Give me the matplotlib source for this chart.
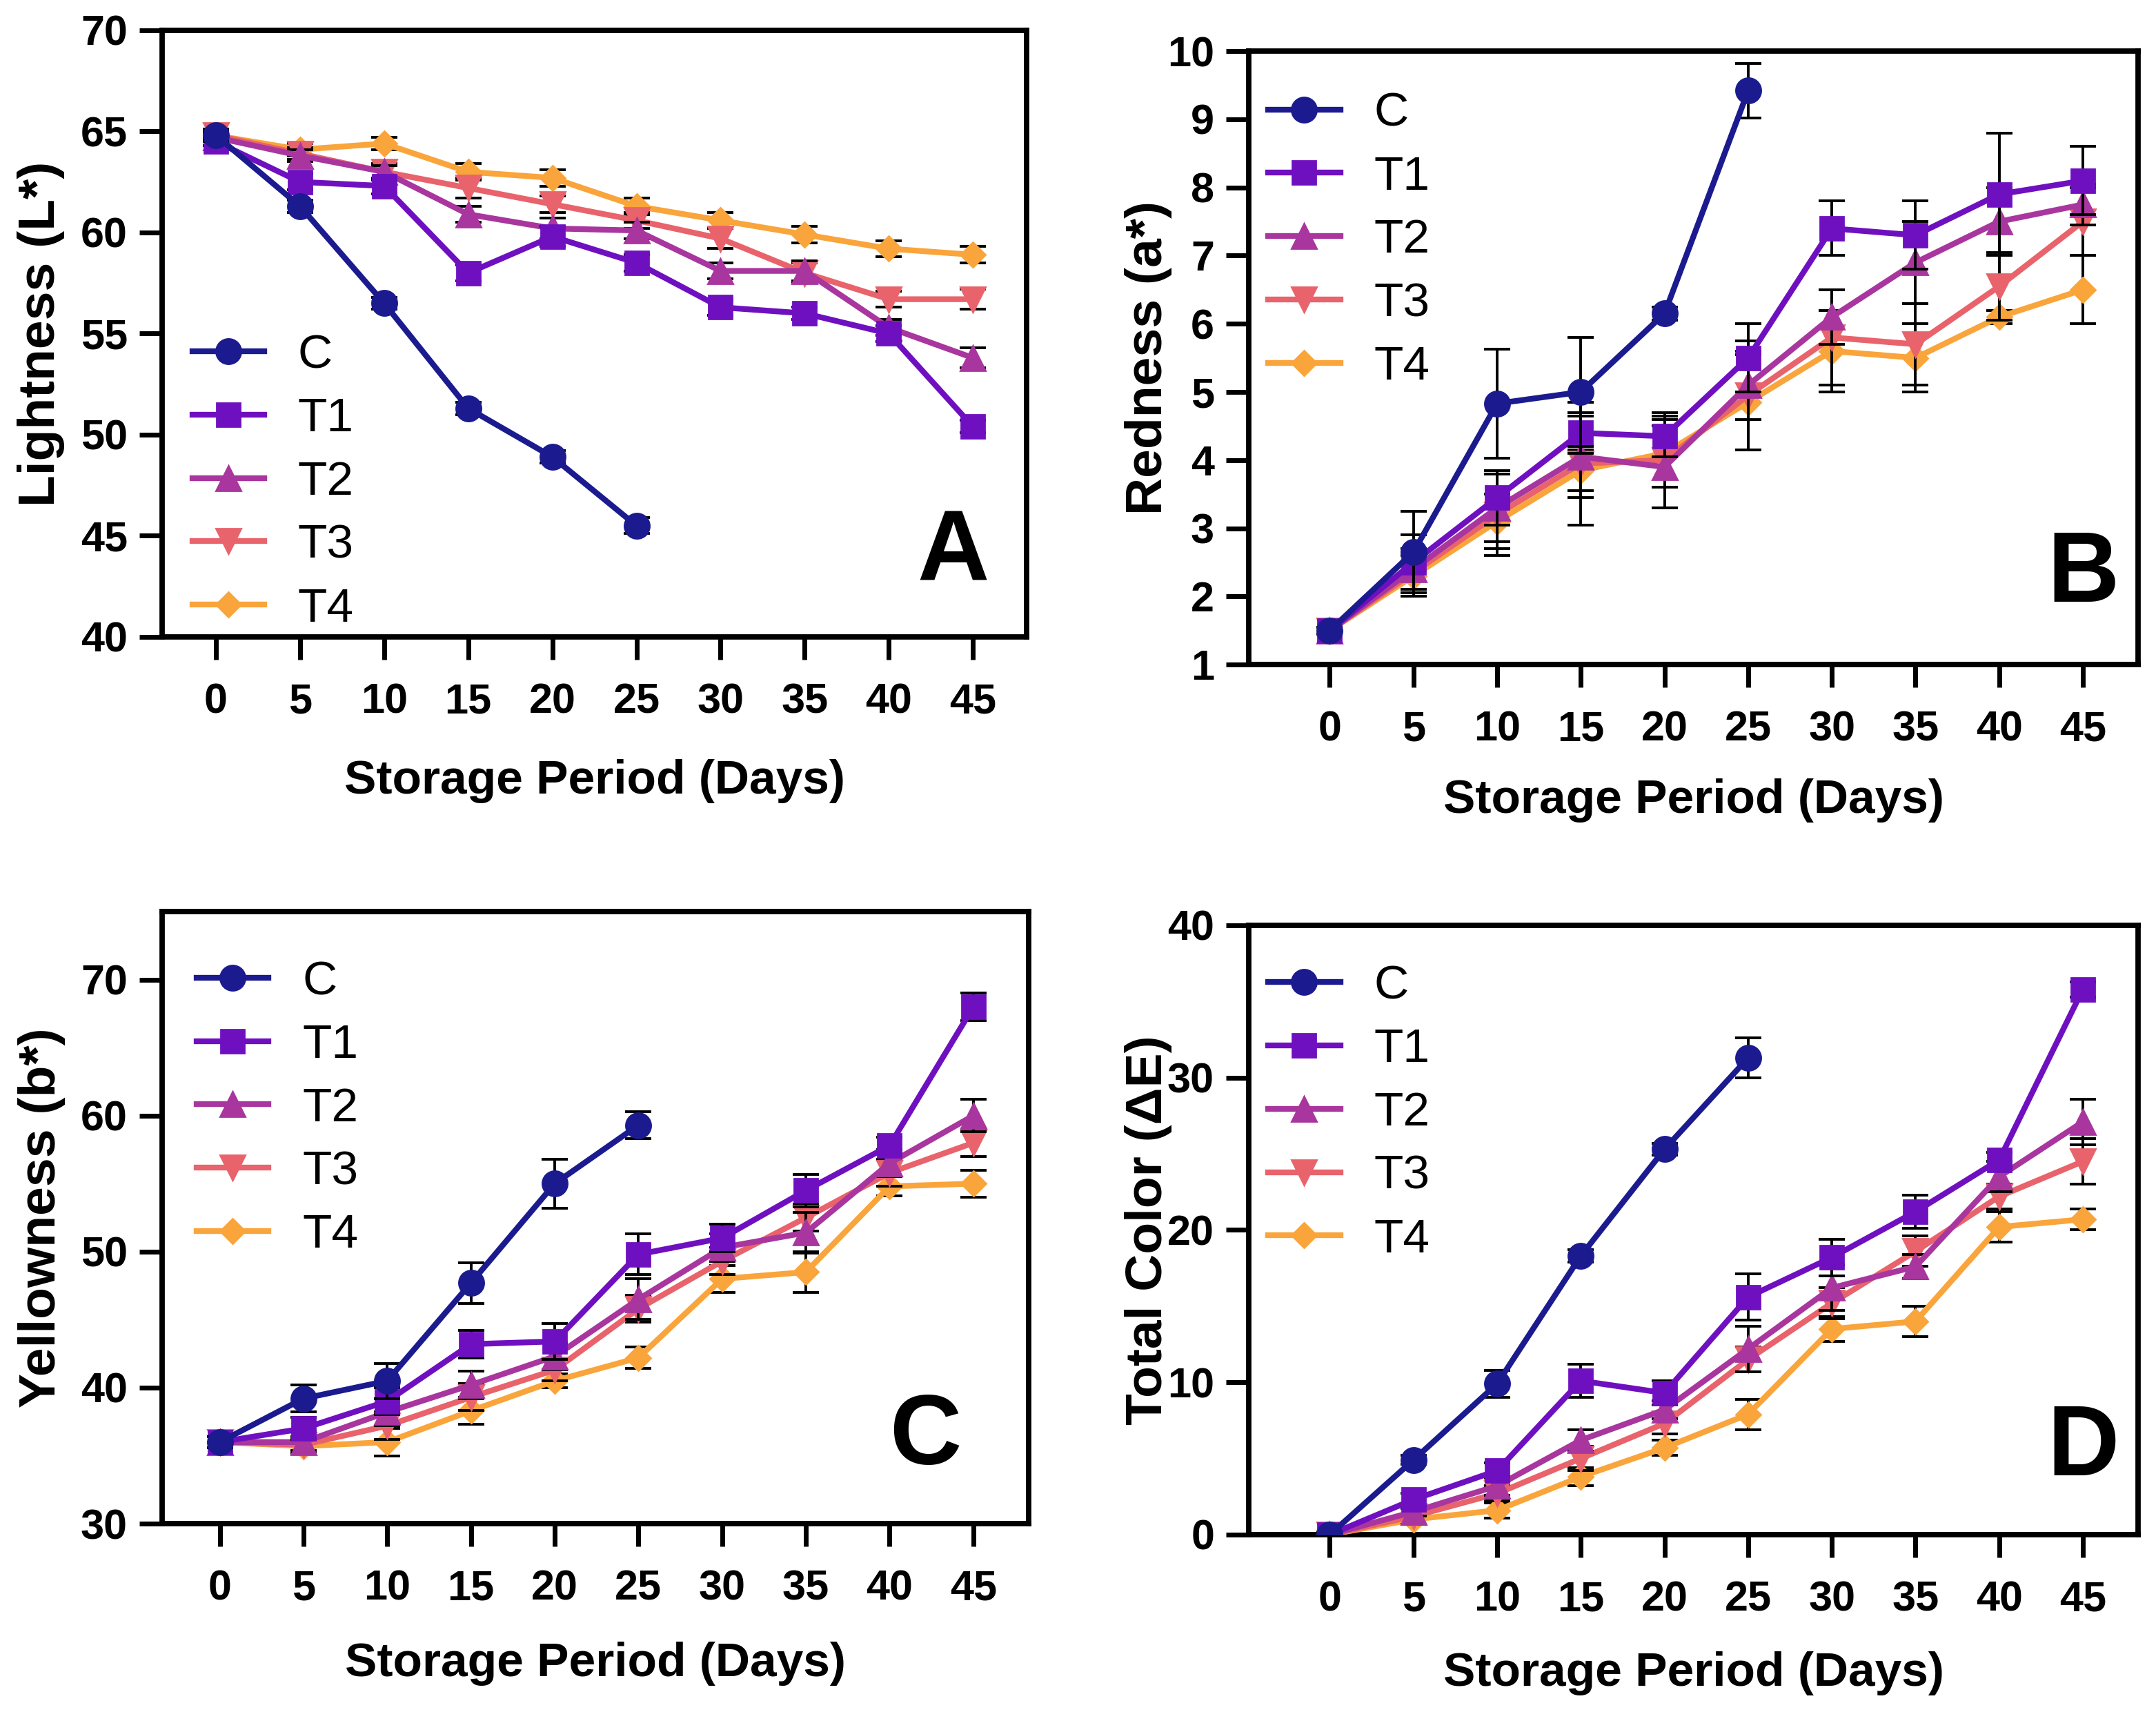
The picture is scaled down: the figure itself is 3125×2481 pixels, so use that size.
import matplotlib
matplotlib.use("Agg")
import matplotlib.pyplot as plt

plt.rcParams["font.family"] = ["Liberation Sans", "DejaVu Sans"]

days = [0, 5, 10, 15, 20, 25, 30, 35, 40, 45]
groups = ["C", "T1", "T2", "T3", "T4"]
colors = ["#1b1b8f", "#6f10c0", "#a8369e", "#e8636b", "#f9a53b"]
markers = ["o", "s", "^", "v", "D"]
msizes = [13, 12, 13, 13, 9]

# Lightness (L*)
L_mean = {
    "C":  [64.8, 61.3, 56.5, 51.3, 48.9, 45.5],
    "T1": [64.5, 62.5, 62.3, 58.0, 59.8, 58.5, 56.3, 56.0, 55.0, 50.4],
    "T2": [64.7, 63.8, 63.0, 60.9, 60.2, 60.1, 58.1, 58.1, 55.3, 53.8],
    "T3": [64.8, 63.9, 63.0, 62.2, 61.4, 60.6, 59.7, 58.0, 56.7, 56.7],
    "T4": [64.8, 64.1, 64.4, 63.0, 62.7, 61.3, 60.6, 59.9, 59.2, 58.9],
}
L_err = {
    "C":  [0.3, 0.3, 0.3, 0.3, 0.3, 0.4],
    "T1": [0.2, 0.4, 0.4, 0.4, 0.5, 0.4, 0.4, 0.3, 0.4, 0.3],
    "T2": [0.2, 0.3, 0.3, 0.4, 0.5, 0.4, 0.4, 0.5, 0.4, 0.5],
    "T3": [0.2, 0.3, 0.4, 0.5, 0.4, 0.4, 0.5, 0.5, 0.4, 0.5],
    "T4": [0.2, 0.3, 0.3, 0.4, 0.4, 0.4, 0.4, 0.4, 0.4, 0.4],
}

# Redness (a*)
a_mean = {
    "C":  [1.5, 2.65, 4.83, 5.0, 6.15, 9.42],
    "T1": [1.5, 2.5, 3.45, 4.4, 4.35, 5.5, 7.4, 7.3, 7.9, 8.1],
    "T2": [1.5, 2.4, 3.3, 4.05, 3.9, 5.1, 6.1, 6.9, 7.5, 7.75],
    "T3": [1.5, 2.35, 3.2, 3.95, 4.0, 4.95, 5.8, 5.7, 6.55, 7.5],
    "T4": [1.5, 2.3, 3.1, 3.85, 4.1, 4.85, 5.6, 5.5, 6.1, 6.5],
}
a_err = {
    "C":  [0.05, 0.6, 0.8, 0.8, 0.1, 0.4],
    "T1": [0.05, 0.4, 0.4, 0.3, 0.3, 0.5, 0.4, 0.5, 0.9, 0.5],
    "T2": [0.05, 0.3, 0.5, 0.6, 0.6, 0.5, 0.4, 0.6, 0.5, 0.3],
    "T3": [0.05, 0.3, 0.6, 0.9, 0.7, 0.8, 0.7, 0.6, 0.5, 0.5],
    "T4": [0.05, 0.3, 0.4, 0.3, 0.5, 0.7, 0.6, 0.5, 0.1, 0.5],
}

# Yellowness (b*)
b_mean = {
    "C":  [36.0, 39.2, 40.5, 47.7, 55.0, 59.3],
    "T1": [36.0, 37.0, 39.0, 43.2, 43.4, 49.8, 51.0, 54.5, 57.8, 68.0],
    "T2": [36.0, 36.0, 38.2, 40.2, 42.3, 46.5, 50.3, 51.4, 56.5, 60.0],
    "T3": [36.0, 35.8, 37.2, 39.3, 41.3, 45.8, 49.3, 52.5, 55.8, 58.0],
    "T4": [36.0, 35.7, 36.0, 38.3, 40.5, 42.2, 48.0, 48.5, 54.8, 55.0],
}
b_err = {
    "C":  [0.4, 1.0, 1.3, 1.5, 1.8, 1.0],
    "T1": [0.4, 0.8, 1.0, 1.0, 1.3, 1.5, 1.0, 1.2, 0.6, 1.0],
    "T2": [0.4, 0.8, 1.0, 1.0, 1.0, 1.5, 1.0, 1.5, 1.0, 1.2],
    "T3": [0.4, 0.6, 1.0, 1.0, 0.8, 1.0, 1.0, 1.0, 1.0, 1.0],
    "T4": [0.4, 0.3, 1.0, 1.0, 0.5, 0.8, 1.0, 1.5, 0.7, 1.0],
}

# Total color (dE)
e_mean = {
    "C":  [0.0, 4.9, 9.9, 18.3, 25.3, 31.3],
    "T1": [0.0, 2.3, 4.2, 10.1, 9.3, 15.6, 18.2, 21.2, 24.6, 35.8],
    "T2": [0.0, 1.5, 3.2, 6.2, 8.2, 12.2, 16.2, 17.6, 23.5, 27.1],
    "T3": [0.0, 1.2, 2.7, 5.0, 7.3, 11.5, 15.2, 18.6, 22.2, 24.5],
    "T4": [0.0, 1.0, 1.6, 3.8, 5.7, 7.9, 13.5, 14.0, 20.2, 20.7],
}
e_err = {
    "C":  [0.2, 0.3, 0.9, 0.4, 0.4, 1.3],
    "T1": [0.2, 0.4, 0.5, 1.1, 0.8, 1.5, 1.2, 1.1, 0.5, 0.5],
    "T2": [0.2, 0.3, 0.6, 0.7, 0.6, 1.5, 1.5, 0.8, 1.0, 1.5],
    "T3": [0.2, 0.5, 0.5, 0.8, 0.7, 0.8, 1.0, 1.0, 0.8, 1.5],
    "T4": [0.2, 0.3, 0.5, 0.6, 0.5, 1.0, 0.8, 1.0, 1.0, 0.7],
}

panels = [
    # data, err, ylabel, letter, rect, xlim, ylim, yticks, legend anchor, letter pos, ylabel x, xlabel y
    (L_mean, L_err, "Lightness (L*)", "A", [0.0752, 0.6280, 0.4010, 0.3543],
     (-3.2, 48.2), (40, 70), range(40, 71, 5), (0.035, 0.50), (0.915, 0.094), -0.14, -0.238),
    (a_mean, a_err, "Redness (a*)", "B", [0.5792, 0.6118, 0.4125, 0.3583],
     (-4.84, 48.3), (1, 10), range(1, 11), (0.022, 0.934), (0.938, 0.103), -0.113, -0.222),
    (b_mean, b_err, "Yellowness (b*)", "C", [0.0752, 0.1100, 0.4019, 0.3575],
     (-3.44, 48.3), (30, 75), range(30, 71, 10), (0.04, 0.921), (0.881, 0.097), -0.139, -0.229),
    (e_mean, e_err, "Total Color (\u0394E)", "D", [0.5792, 0.1036, 0.4125, 0.3559],
     (-4.84, 48.3), (0, 40), range(0, 41, 10), (0.022, 0.936), (0.938, 0.097), -0.113, -0.228),
]

fig = plt.figure(figsize=(15.625, 12.405), dpi=200)

for data, err, ylab, letter, rect, xlim, ylim, yticks, leg_xy, let_xy, ylx, xly in panels:
    ax = fig.add_axes(rect)
    handles = []
    for i in reversed(range(len(groups))):
        g = groups[i]
        x = days[:len(data[g])]
        ax.errorbar(x, data[g], yerr=err[g], fmt="none", ecolor="black",
                    elinewidth=1.4, capsize=7, capthick=1.4, zorder=2 + (4 - i))
        h, = ax.plot(x, data[g], color=colors[i], marker=markers[i], markersize=msizes[i],
                     linewidth=3.0, label=g, zorder=3 + (4 - i))
        handles.append(h)
    handles = handles[::-1]

    ax.set_xlim(*xlim)
    ax.set_ylim(*ylim)
    ax.set_xticks(days)
    ax.set_yticks(list(yticks))
    for s in ax.spines.values():
        s.set_linewidth(2.8)
    ax.tick_params(axis="both", direction="out", length=12, width=2.5, labelsize=22)
    ax.tick_params(axis="x", pad=12)
    ax.tick_params(axis="y", pad=6)
    for lab in ax.get_xticklabels() + ax.get_yticklabels():
        lab.set_fontweight("bold")

    ax.set_xlabel("Storage Period (Days)", fontsize=25, fontweight="bold")
    ax.set_ylabel(ylab, fontsize=27, fontweight="bold")
    ax.xaxis.set_label_coords(0.5, xly)
    ax.xaxis.label.set_va("center")
    ax.yaxis.set_label_coords(ylx, 0.5)
    ax.yaxis.label.set_va("center")

    ax.legend(handles=handles, loc="upper left", bbox_to_anchor=leg_xy, frameon=False,
              fontsize=25, handlelength=1.5, handletextpad=0.7, labelspacing=0.4,
              borderpad=0, borderaxespad=0)
    ax.text(let_xy[0], let_xy[1], letter, transform=ax.transAxes, ha="center",
            va="baseline", fontsize=52, fontweight="bold")

fig.savefig("out.png", dpi=200)
